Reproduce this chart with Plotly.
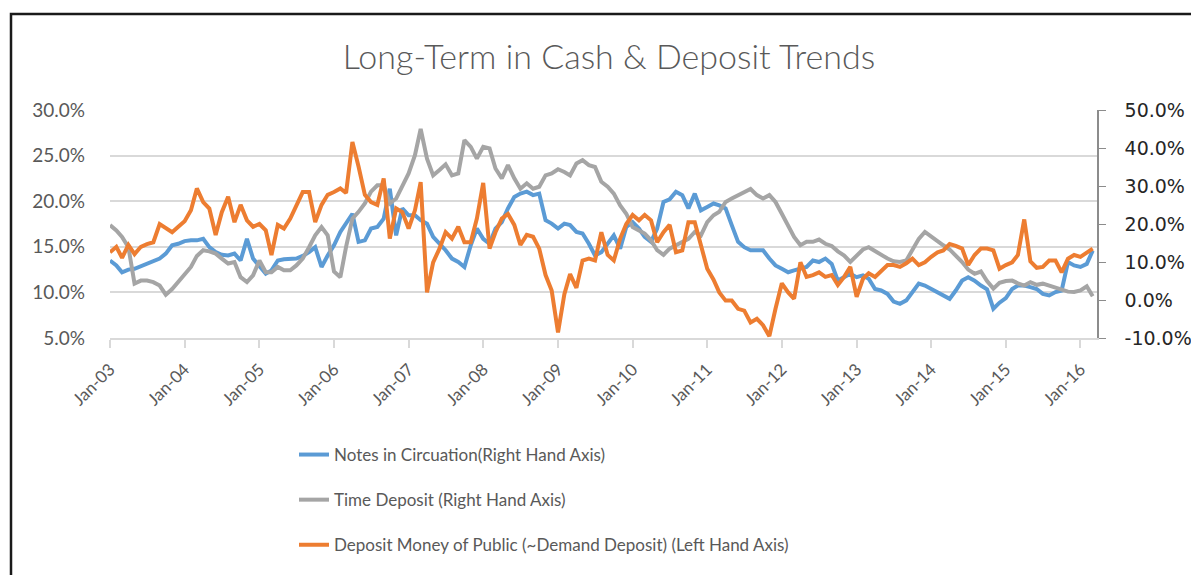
import pandas as pd
import plotly.graph_objects as go

# Monthly observations, Jan-2003 .. Mar-2016
dates = pd.date_range("2003-01-01", periods=159, freq="MS")

notes_in_circulation = [  # % (right hand axis)
    10.4, 9.1, 7.3, 8.0, 8.2, 8.9, 9.5, 10.2, 10.9, 12.2, 14.4, 14.8,
    15.5, 15.7, 15.7, 16.1, 13.9, 12.6, 11.9, 11.7, 12.2, 10.4, 16.1, 10.9,
    8.7, 6.9, 7.8, 10.4, 10.7, 10.9, 10.9, 11.6, 12.6, 13.9, 8.7, 11.7,
    14.4, 17.9, 20.1, 22.7, 15.3, 15.7, 18.8, 19.2, 21.4, 29.3, 17.0, 24.1,
    22.3, 22.3, 21.0, 20.1, 16.6, 14.8, 13.1, 10.9, 10.0, 8.7, 14.4, 18.8,
    16.1, 14.8, 18.8, 20.5, 24.1, 27.1, 28.0, 28.5, 27.6, 28.0, 21.0, 20.1,
    18.8, 20.1, 19.7, 17.9, 17.5, 14.8, 11.7, 12.6, 14.8, 17.0, 13.5, 19.2,
    20.5, 18.8, 16.6, 15.3, 18.8, 25.8, 26.5, 28.5, 27.6, 24.1, 28.0, 23.6,
    24.5, 25.4, 24.9, 24.1, 19.7, 15.3, 13.9, 13.1, 13.1, 13.1, 10.9, 9.1,
    8.2, 7.3, 7.8, 8.2, 8.7, 10.4, 10.0, 10.9, 9.5, 5.1, 6.0, 6.9,
    6.0, 6.5, 5.6, 2.9, 2.5, 1.6, -0.4, -1.0, -0.1, 2.1, 4.3, 3.8,
    2.9, 2.1, 1.2, 0.3, 2.5, 5.1, 6.0, 5.1, 3.8, 2.8, -2.3, -0.7,
    0.5, 2.9, 3.8, 3.8, 3.4, 2.9, 1.6, 1.2, 2.1, 2.5, 10.0, 9.1,
    8.7, 9.5, 13.0,
]

time_deposit = [  # % (right hand axis)
    19.7, 18.3, 16.6, 13.9, 4.3, 5.1, 5.1, 4.7, 3.8, 1.4, 2.9, 4.7,
    6.9, 8.7, 11.6, 13.1, 12.8, 12.2, 10.9, 9.6, 10.0, 6.0, 4.7, 6.5,
    10.4, 7.3, 7.3, 8.7, 7.8, 7.8, 9.1, 10.9, 13.9, 17.0, 19.2, 17.0,
    7.5, 6.0, 14.0, 21.4, 23.2, 25.4, 28.5, 30.2, 30.2, 25.4, 26.7, 29.8,
    33.3, 38.1, 45.0, 37.2, 32.8, 34.2, 35.7, 32.8, 33.3, 42.1, 40.3, 37.2,
    40.3, 39.9, 34.6, 32.0, 35.5, 32.0, 29.3, 30.7, 29.3, 29.8, 32.8, 33.3,
    34.4, 33.7, 32.8, 35.9, 36.8, 35.5, 35.0, 31.1, 29.8, 28.0, 24.9, 22.7,
    19.2, 18.3, 17.5, 15.7, 13.1, 11.9, 13.5, 14.4, 15.3, 16.1, 17.9, 17.0,
    20.5, 22.3, 23.2, 25.8, 26.7, 27.6, 28.3, 29.2, 27.6, 26.7, 27.6, 25.8,
    22.7, 19.7, 16.6, 14.4, 15.3, 15.3, 15.9, 14.8, 14.2, 12.8, 11.7, 10.0,
    11.7, 13.3, 13.9, 12.8, 11.7, 10.9, 10.2, 10.0, 10.4, 13.3, 16.1, 17.9,
    16.6, 15.3, 14.4, 13.3, 11.7, 10.0, 8.0, 6.9, 7.5, 5.0, 3.0, 4.5,
    5.0, 5.1, 4.4, 3.8, 4.7, 4.0, 4.3, 3.8, 3.1, 2.6, 2.2, 2.1,
    2.5, 3.6, 1.0,
]

deposit_money_public = [  # % (left hand axis)
    14.4, 15.0, 13.8, 15.2, 14.2, 15.0, 15.3, 15.5, 17.5, 17.0, 16.6, 17.2,
    17.8, 19.0, 21.4, 19.9, 19.2, 16.3, 18.8, 20.5, 17.7, 19.6, 17.9, 17.2,
    17.5, 16.8, 14.1, 17.4, 17.0, 18.1, 19.6, 21.0, 21.0, 17.7, 19.6, 20.7,
    21.0, 21.4, 20.9, 26.5, 23.8, 20.7, 19.9, 19.6, 22.5, 15.9, 19.2, 18.8,
    17.0, 19.0, 22.1, 10.0, 13.3, 14.8, 16.6, 15.9, 17.2, 15.5, 15.5, 18.1,
    22.0, 14.8, 16.6, 18.1, 18.6, 17.4, 15.2, 16.3, 16.1, 14.8, 11.9, 10.2,
    5.6, 9.8, 12.0, 10.5, 13.5, 13.7, 13.5, 16.6, 14.1, 13.5, 15.9, 17.5,
    18.5, 17.9, 18.5, 17.9, 15.5, 16.6, 17.4, 14.4, 14.6, 17.7, 17.7, 15.0,
    12.6, 11.4, 10.0, 9.1, 9.1, 8.2, 8.0, 6.7, 7.1, 6.4, 5.2, 8.2,
    11.0, 10.0, 9.3, 13.3, 11.7, 11.9, 12.2, 11.7, 11.9, 10.8, 11.7, 12.8,
    9.5, 11.5, 12.1, 11.7, 12.4, 13.0, 13.0, 12.8, 13.2, 13.7, 13.0, 13.3,
    13.9, 14.4, 14.6, 15.3, 15.1, 14.8, 13.0, 14.1, 14.8, 14.8, 14.6, 12.6,
    13.0, 13.3, 14.1, 18.0, 13.4, 12.7, 12.8, 13.5, 13.5, 12.2, 13.7, 14.1,
    13.9, 14.4, 14.8,
]

left_ticks = [5, 10, 15, 20, 25, 30]
left_labels = ["5.0%", "10.0%", "15.0%", "20.0%", "25.0%", "30.0%"]
right_ticks = [-10, 0, 10, 20, 30, 40, 50]
right_labels = ["-10.0%", "0.0%", "10.0%", "20.0%", "30.0%", "40.0%", "50.0%"]

TEXT = "#595959"
GRID = "#d9d9d9"

fig = go.Figure()
fig.add_trace(go.Scatter(
    x=dates, y=notes_in_circulation, yaxis="y", mode="lines",
    name="Notes in Circuation(Right Hand Axis)", legendgroup="a",
    line=dict(color="#5B9BD5", width=4)))
fig.add_trace(go.Scatter(
    x=dates, y=time_deposit, yaxis="y", mode="lines",
    name="Time Deposit (Right Hand Axis)", legendgroup="b",
    line=dict(color="#A5A5A5", width=4)))
fig.add_trace(go.Scatter(
    x=dates, y=deposit_money_public, yaxis="y2", mode="lines",
    name="Deposit Money of Public (~Demand Deposit) (Left Hand Axis)", legendgroup="c",
    line=dict(color="#ED7D31", width=4)))

# page offset of the figure div (default body margin)
OFF = 8
W, H = 1199 - OFF, 575 - OFF
# plot area in screen pixels
PL, PR, PT, PB = 110, 1097, 110, 338
def px(x):
    return (x - PL) / (PR - PL)
def py(y):
    return (PB - y) / (PB - PT)

fig.update_layout(
    width=W, height=H,
    margin=dict(l=PL - OFF, r=W - (PR - OFF), t=PT - OFF, b=H - (PB - OFF), autoexpand=False),
    paper_bgcolor="white", plot_bgcolor="white",
    font=dict(family="Lato", color=TEXT, size=17),
    title=dict(text="Long-Term in Cash & Deposit Trends", xref="paper", x=px(609),
               xanchor="center", yref="container", y=1 - (57 - OFF) / H, yanchor="middle",
               font=dict(family="Lato", size=34, color=TEXT, weight=300)),
    xaxis=dict(type="date", range=["2003-01-01", "2016-03-22"], automargin=False,
               tick0="2003-01-01", dtick="M12", tickformat="%b-%y", tickangle=-45,
               showgrid=False, showline=True, linecolor=GRID, linewidth=1.5,
               ticks="outside", ticklen=8, tickcolor=GRID, tickwidth=1.5,
               ticklabelstandoff=5,
               tickfont=dict(family="Lato", size=17, color=TEXT), anchor="y"),
    yaxis=dict(side="right", range=[-10, 50], tickvals=right_ticks, ticktext=right_labels,
               automargin=False, showgrid=False, zeroline=False,
               showline=True, linecolor="#8c8c8c", linewidth=1.5,
               ticks="outside", ticklen=7, tickcolor="#8c8c8c",
               ticklabelstandoff=15,
               tickfont=dict(family="DejaVu Sans", size=19, color="#262626")),
    yaxis2=dict(side="left", overlaying="y", range=[5, 30], tickvals=left_ticks,
                ticktext=left_labels, automargin=False, showgrid=True, gridcolor=GRID,
                gridwidth=1.5, zeroline=False, showline=False, ticks="",
                ticklabelstandoff=24,
                tickfont=dict(family="Lato", size=19, color=TEXT)),
    legend=dict(orientation="v", x=px(294), xanchor="left", y=py(437), yanchor="top",
                tracegroupgap=20, font=dict(family="Lato", size=17, color=TEXT),
                bgcolor="rgba(0,0,0,0)"),
    showlegend=True,
)

# outer chart frame (cropped on the right and bottom)
fig.add_shape(type="rect", xref="paper", yref="paper",
              x0=px(11), x1=px(1230), y0=py(620), y1=py(14),
              line=dict(color="#1a1a1a", width=2.5), fillcolor="rgba(0,0,0,0)",
              layer="above")

fig.write_html("out.html")
